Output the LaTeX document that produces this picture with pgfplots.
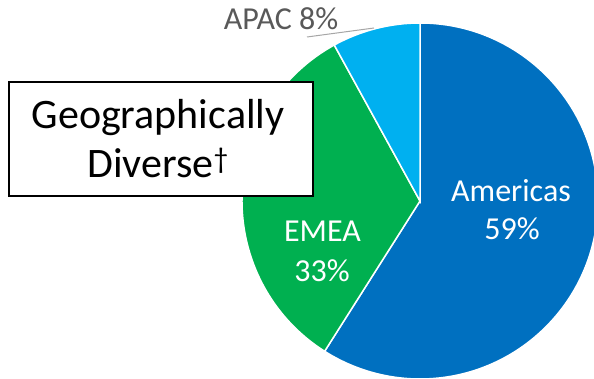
\documentclass[border=0pt]{standalone}
\usepackage{pgfplots}
\pgfplotsset{compat=1.18}
\usepackage{pgfplotstable}
\usepackage{fontspec}
\setmainfont{Carlito}
\definecolor{amer}{HTML}{0070C0}
\definecolor{emea}{HTML}{00B050}
\definecolor{apac}{HTML}{00B0F0}
\definecolor{lbl}{HTML}{595959}
\definecolor{lead}{HTML}{A6A6A6}
\pgfplotstableread{
region share
Americas 59
EMEA 33
APAC 8
}\piedata
\pgfplotstablegetelem{0}{share}\of\piedata \let\sA\pgfplotsretval
\pgfplotstablegetelem{1}{share}\of\piedata \let\sB\pgfplotsretval
\pgfplotstablegetelem{2}{share}\of\piedata \let\sC\pgfplotsretval
\pgfmathsetmacro{\aA}{90}
\pgfmathsetmacro{\aB}{\aA-3.6*\sA}
\pgfmathsetmacro{\aC}{\aB-3.6*\sB}
\pgfmathsetmacro{\aD}{\aC-3.6*\sC}
\begin{document}%
\begin{tikzpicture}[x=1pt,y=1pt]
\begin{axis}[at={(420pt,178pt)}, anchor=center, scale only axis,
  width=356pt, height=356pt, xmin=-1, xmax=1, ymin=-1, ymax=1,
  hide axis, clip=false]
\fill[amer, draw=white, line width=1.5pt] (axis cs:0,0) -- (axis cs:{cos(\aA)},{sin(\aA)}) arc[start angle=\aA, end angle=\aB, radius=178pt] -- cycle;
\fill[emea, draw=white, line width=1.5pt] (axis cs:0,0) -- (axis cs:{cos(\aB)},{sin(\aB)}) arc[start angle=\aB, end angle=\aC, radius=178pt] -- cycle;
\fill[apac, draw=white, line width=1.5pt] (axis cs:0,0) -- (axis cs:{cos(\aC)},{sin(\aC)}) arc[start angle=\aC, end angle=\aD, radius=178pt] -- cycle;
\end{axis}
\begin{scope}[every node/.style={inner sep=0pt, anchor=base, text=white, font=\fontsize{32}{38}\selectfont}]
\node at (511,177) {Americas};
\node at (512,139) {59\%};
\node at (322.5,137) {EMEA};
\node at (322,97) {33\%};
\end{scope}
\node[inner sep=0pt, anchor=base, text=lbl, font=\fontsize{32}{38}\selectfont] at (281,349) {APAC 8\%};
\draw[lead, line width=1pt] (307,342) -- (374,351);
\draw[black, line width=2pt, fill=white] (9,183) rectangle (313,297);
\node[inner sep=0pt, anchor=base, font=\fontsize{42}{48}\selectfont] at (158,250) {Geographically};
\node[inner sep=0pt, anchor=base, font=\fontsize{42}{48}\selectfont] at (158,201) {Diverse\textsuperscript{†}};
\pgfresetboundingbox
\path[use as bounding box] (0,0) rectangle (594,379);
\end{tikzpicture}%
\end{document}
